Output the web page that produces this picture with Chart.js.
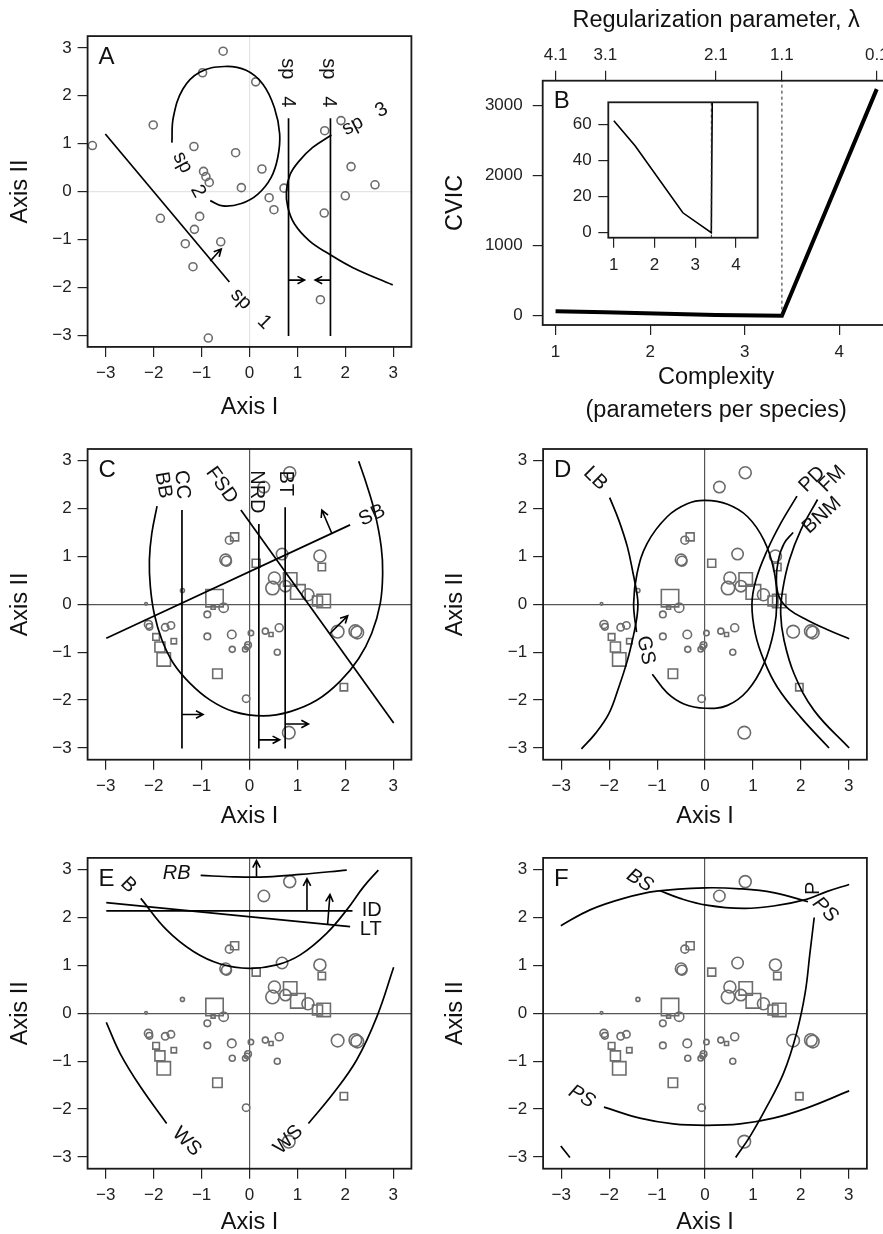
<!DOCTYPE html>
<html><head><meta charset="utf-8">
<script src="https://cdn.jsdelivr.net/npm/chart.js@4.4.1/dist/chart.umd.min.js"></script>
<style>
html,body{margin:0;padding:0;background:#fff;}
body{width:883px;height:1234px;overflow:hidden;position:relative;}
canvas{position:absolute;}
</style></head><body>
<canvas id="cA"></canvas><canvas id="cB"></canvas><canvas id="cBin"></canvas>
<canvas id="cC"></canvas><canvas id="cD"></canvas><canvas id="cE"></canvas><canvas id="cF"></canvas>
<script>
// ---------------- DATA ----------------
const ordTicks = [-3, -2, -1, 0, 1, 2, 3];

// Panel A: simulated sites and species boundaries
const aSitesX = [-0.55,-0.98,0.13,-2.01,-3.28,-1.16,-0.29,0.26,-0.96,-0.91,-0.84,-0.17,0.72,0.41,0.51,1.56,2.00,2.12,2.62,1.91,1.57,-1.86,-1.04,-1.15,-1.34,-0.60,-1.18,1.48,-0.86];
const aSitesY = [2.93,2.48,2.29,1.39,0.96,0.94,0.81,0.47,0.42,0.31,0.19,0.08,0.07,-0.13,-0.38,-0.45,-0.09,0.52,0.14,1.48,1.27,-0.56,-0.52,-0.79,-1.09,-1.05,-1.57,-2.26,-3.06];
const aSp1 = [[-3.01,1.20],[-0.42,-1.89]];
const aSp2 = [[-1.62,1.02],[-1.59,1.55],[-1.39,2.14],[-1.04,2.49],[-0.52,2.61],[-0.07,2.53],[0.28,2.24],[0.52,1.75],[0.63,1.20],[0.59,0.71],[0.45,0.29],[0.17,-0.06],[-0.17,-0.25],[-0.56,-0.30],[-0.82,-0.19]];
const aSp3 = [[1.71,1.18],[1.32,0.92],[1.04,0.64],[0.85,0.36],[0.77,0.01],[0.80,-0.33],[0.94,-0.68],[1.25,-1.03],[1.67,-1.31],[2.16,-1.59],[2.99,-1.95]];
const aSp4a = [[0.815,1.53],[0.815,-3.02]];
const aSp4b = [[1.69,1.53],[1.69,-3.02]];
const aArrows = [[-0.82,-1.45,-0.59,-1.20],[0.815,-1.85,1.15,-1.85],[1.69,-1.85,1.37,-1.85]];
const aLabels = [
  {t:'sp   1', x:0.03, y:-2.45, r:45},
  {t:'sp   2', x:-1.26, y:0.35, r:62},
  {t:'sp   4', x:0.80, y:2.27, r:90},
  {t:'sp   4', x:1.65, y:2.27, r:90},
  {t:'sp   3', x:2.41, y:1.51, r:-28}
];

// Panel B: cross-validated information criterion vs complexity
const complexity = [1, 1.526, 2.695, 3.394, 4.397];
const cvic = [62, 48, 11, 0, 3230];
const lambdaLabels = ['4.1', '3.1', '2.1', '1.1', '0.1'];
const chosenIndex = 3;
const bTicksX = [1, 2, 3, 4];
const bTicksY = [0, 1000, 2000, 3000];
const inTicksY = [0, 20, 40, 60];

// Panels C-F: shared site scores (group: c = circle, s = square; w = weight)
const sitesX = [0.84,0.30,-0.42,-0.50,-0.48,0.68,1.47,0.52,0.48,0.75,1.22,-0.54,-1.40,-2.16,-0.88,-2.11,-2.09,-1.76,-1.64,-0.88,-0.37,-0.36,0.03,0.33,0.62,-0.03,-0.05,-0.09,0.58,-0.07,1.84,2.21,2.25,0.82,
  -0.31,0.14,1.51,0.85,1.01,1.42,1.55,-0.73,-0.76,-1.95,-1.58,-1.87,-1.79,0.45,-0.67,1.97];
const sitesY = [2.75,2.45,1.34,0.93,0.90,1.05,1.01,0.55,0.34,0.38,0.20,-0.07,0.29,0.01,-0.21,-0.42,-0.47,-0.48,-0.44,-0.67,-0.63,-0.94,-0.60,-0.56,-0.49,-0.85,-0.89,-0.94,-1.00,-1.97,-0.57,-0.56,-0.59,-2.68,
  1.41,0.86,0.78,0.52,0.26,0.07,0.07,0.13,-0.06,-0.68,-0.77,-0.89,-1.15,-0.63,-1.45,-1.73];
const sitesGroup = ['c','c','c','c','c','c','c','c','c','c','c','c','c','c','c','c','c','c','c','c','c','c','c','c','c','c','c','c','c','c','c','c','c','c',
  's','s','s','s','s','s','s','s','s','s','s','s','s','s','s','s'];
const sitesWeight = [6.0,5.7,4.0,5.7,5.0,5.7,6.0,6.0,6.7,5.7,6.0,4.7,2.0,1.3,3.3,4.0,3.3,3.7,3.7,3.3,4.3,3.0,2.7,3.0,4.0,3.3,2.7,2.7,3.0,3.7,6.3,6.3,6.3,6.3,
  4.0,4.0,3.7,6.7,7.3,5.0,6.7,8.7,2.0,3.3,2.7,5.0,6.7,2.0,4.7,3.7];

// Panel C curves
const cBB = [[-1.93,2.05],[-2.04,1.48],[-2.09,0.93],[-2.07,0.37],[-1.99,-0.19],[-1.83,-0.74],[-1.59,-1.23],[-1.24,-1.65],[-0.82,-2.00],[-0.33,-2.24],[0.29,-2.33],[0.85,-2.24],[1.41,-2.00],[1.89,-1.61],[2.28,-1.13],[2.55,-0.61],[2.73,0.02],[2.78,0.65],[2.75,1.20],[2.62,1.90],[2.45,2.49],[2.28,2.99]];
const cCC = [[-1.41,1.97],[-1.41,-3.01]];
const cFSD = [[-0.18,1.97],[3.01,-2.48]];
const cNRD = [[0.195,1.68],[0.195,-3.01]];
const cBT = [[0.745,2.03],[0.745,-3.01]];
const cSB = [[-2.99,-0.71],[2.10,1.66]];
const cArrows = [[-1.41,-2.30,-0.97,-2.30],[0.195,-2.83,0.63,-2.83],[0.745,-2.50,1.23,-2.50],[1.68,-0.61,2.05,-0.24],[1.72,1.48,1.51,1.97]];
const cLabels = [
  {t:'BB', x:-1.80, y:2.49, r:80}, {t:'CC', x:-1.41, y:2.50, r:85},
  {t:'FSD', x:-0.58, y:2.49, r:54}, {t:'NRD', x:0.15, y:2.35, r:90},
  {t:'BT', x:0.745, y:2.53, r:90}, {t:'SB', x:2.56, y:1.86, r:-25}
];

// Panel D curves
const dLB = [[-1.99,2.23],[-1.80,1.76],[-1.62,1.20],[-1.50,0.64],[-1.42,0.22],[-1.40,0],[-1.42,-0.26],[-1.50,-0.68],[-1.62,-1.17],[-1.80,-1.73],[-2.01,-2.29],[-2.29,-2.70],[-2.58,-3.02]];
const dGS = [[-1.10,-1.46],[-0.79,-1.85],[-0.44,-2.08],[0,-2.17],[0.47,-2.11],[0.89,-1.80],[1.23,-1.24],[1.44,-0.54],[1.50,0.08],[1.44,0.71],[1.23,1.34],[0.89,1.83],[0.47,2.09],[0,2.17],[-0.37,2.10],[-0.79,1.83],[-1.21,1.27],[-1.42,0.64],[-1.49,0.01],[-1.43,-0.58]];
const dPD = [[1.92,2.26],[1.58,1.69],[1.30,1.13],[1.06,0.50],[0.98,0],[1.05,-0.61],[1.23,-1.17],[1.51,-1.73],[2.00,-2.36],[2.59,-3.00]];
const dFM = [[2.35,2.19],[2.00,1.55],[1.76,0.92],[1.62,0.29],[1.58,-0.20],[1.65,-0.75],[1.86,-1.45],[2.28,-2.22],[3.01,-3.00]];
const dBNM = [[1.84,1.50],[1.65,1.27],[1.53,0.92],[1.49,0.50],[1.55,0.15],[1.76,-0.11],[2.14,-0.33],[2.56,-0.53],[3.01,-0.72]];
const dLabels = [
  {t:'LB', x:-2.29, y:2.63, r:45}, {t:'GS', x:-1.24, y:-0.96, r:78},
  {t:'PD', x:2.24, y:2.61, r:-45}, {t:'FM', x:2.66, y:2.62, r:-45},
  {t:'BNM', x:2.44, y:1.86, r:-42}
];

// Panel E curves
const eRB = [[-1.02,2.88],[-0.33,2.85],[0.36,2.85],[1.06,2.90],[2.03,2.99]];
const eB = [[-2.27,2.40],[-1.73,1.74],[-1.17,1.29],[-0.61,1.03],[0,0.94],[0.57,1.01],[1.06,1.22],[1.61,1.67],[2.03,2.16],[2.38,2.64],[2.69,2.99]];
const eID = [[-2.99,2.14],[2.15,2.14]];
const eLT = [[-2.99,2.31],[2.10,1.81]];
const eWSl = [[-2.99,-0.19],[-2.70,-0.84],[-2.28,-1.53],[-1.73,-2.30]];
const eWSr = [[1.23,-2.30],[1.75,-1.67],[2.24,-0.97],[2.66,-0.07],[3.01,0.96]];
const eArrows = [[0.146,2.85,0.146,3.19],[1.20,2.14,1.20,2.81],[1.63,1.85,1.68,2.48]];
const eLabels = [
  {t:'RB', x:-1.52, y:2.93, r:0, it:true}, {t:'B', x:-2.53, y:2.68, r:45},
  {t:'ID', x:2.55, y:2.14, r:0}, {t:'LT', x:2.53, y:1.75, r:0},
  {t:'WS', x:-1.31, y:-2.68, r:45}, {t:'WS', x:0.81, y:-2.64, r:-45}
];

// Panel F curves
const fP = [[-3.01,1.83],[-2.40,2.16],[-1.70,2.40],[-1.01,2.55],[0,2.62],[0.73,2.60],[1.43,2.52],[2.15,2.33]];
const fBS = [[-0.94,2.56],[-0.52,2.40],[0.03,2.26],[0.80,2.19],[1.43,2.24],[2.12,2.38],[2.54,2.54],[3.01,2.69]];
const fPSa = [[0.64,-3.01],[0.94,-2.57],[1.29,-1.95],[1.64,-1.25],[1.91,-0.42],[2.09,0.42],[2.19,1.25],[2.28,2.00]];
const fPSb = [[-2.11,-1.96],[-1.36,-2.19],[-0.66,-2.31],[0.03,-2.34],[0.73,-2.31],[1.43,-2.19],[2.12,-1.98],[3.01,-1.62]];
const fTiny = [[-3.01,-2.77],[-2.82,-3.01]];
const fLabels = [
  {t:'BS', x:-1.36, y:2.77, r:32, it:true}, {t:'P', x:2.26, y:2.61, r:-90},
  {t:'PS', x:2.51, y:2.16, r:45, it:true}, {t:'PS', x:-2.57, y:-1.74, r:30, it:true}
];

// ---------------- RENDERING ----------------
const FONT = "'Liberation Sans', Arial, Helvetica, sans-serif";
Chart.defaults.font.family = FONT;
const fmtTick = v => (v < 0 ? '\u2212' : '') + Math.abs(v);
const TICK = 17, TITLE = 23.5, LT = TITLE * 1.2, LABEL = 20;

const decor = {
  id: 'decor',
  afterDatasetsDraw(chart, args, o) {
    const {ctx, chartArea: ca, scales} = chart;
    const xs = scales.x, ys = scales.y;
    ctx.save();
    if (o.refX !== undefined) {
      ctx.save();
      ctx.beginPath(); ctx.rect(ca.left, ca.top, ca.right - ca.left, ca.bottom - ca.top); ctx.clip();
      const px = xs.getPixelForValue(o.refX);
      const y0 = o.refFrom === undefined ? ca.bottom : ys.getPixelForValue(o.refFrom);
      ctx.setLineDash([3, 3]); ctx.strokeStyle = '#222'; ctx.lineWidth = 1;
      ctx.beginPath(); ctx.moveTo(px, y0); ctx.lineTo(px, ca.top); ctx.stroke();
      ctx.restore();
    }
    ctx.strokeStyle = '#000'; ctx.lineWidth = 1.6; ctx.setLineDash([]);
    (o.arrows || []).forEach(a => {
      const x0 = xs.getPixelForValue(a[0]), y0 = ys.getPixelForValue(a[1]);
      const x1 = xs.getPixelForValue(a[2]), y1 = ys.getPixelForValue(a[3]);
      const ang = Math.atan2(y1 - y0, x1 - x0), hl = 8, ha = Math.PI / 6.5;
      ctx.beginPath(); ctx.moveTo(x0, y0); ctx.lineTo(x1, y1);
      ctx.moveTo(x1 - hl * Math.cos(ang - ha), y1 - hl * Math.sin(ang - ha));
      ctx.lineTo(x1, y1);
      ctx.lineTo(x1 - hl * Math.cos(ang + ha), y1 - hl * Math.sin(ang + ha));
      ctx.stroke();
    });
    ctx.fillStyle = '#111';
    (o.labels || []).forEach(l => {
      ctx.save();
      ctx.translate(xs.getPixelForValue(l.x), ys.getPixelForValue(l.y));
      ctx.rotate(l.r * Math.PI / 180);
      ctx.font = (l.it ? 'italic ' : '') + LABEL + 'px ' + FONT;
      ctx.textAlign = 'center'; ctx.textBaseline = 'middle';
      ctx.fillText(l.t, 0, 0);
      ctx.restore();
    });
    ctx.strokeStyle = '#1a1a1a'; ctx.lineWidth = 1.8;
    ctx.strokeRect(ca.left, ca.top, ca.right - ca.left, ca.bottom - ca.top);
    if (o.letter) {
      ctx.fillStyle = '#111'; ctx.font = '24px ' + FONT;
      ctx.textAlign = 'left'; ctx.textBaseline = 'middle';
      ctx.fillText(o.letter, ca.left + 11, ca.top + 21);
    }
    ctx.restore();
  }
};
Chart.register(decor);

function place(id, b) {
  const cv = document.getElementById(id);
  cv.width = b.w; cv.height = b.h;
  cv.style.left = b.x + 'px'; cv.style.top = b.y + 'px';
  cv.style.width = b.w + 'px'; cv.style.height = b.h + 'px';
  return cv;
}
const toXY = arr => arr.map(p => ({x: p[0], y: p[1]}));
function curve(arr, smooth) {
  return {data: toXY(arr), showLine: true, borderColor: '#000', borderWidth: 1.7,
          pointRadius: 0, tension: smooth ? 0.4 : 0, fill: false};
}
function sitesDataset(xs, ys, groups, weights) {
  return {
    data: xs.map((x, i) => ({x, y: ys[i]})),
    showLine: false,
    pointStyle: groups.map(g => g === 's' ? 'rect' : 'circle'),
    pointRadius: weights.map((w, i) => groups[i] === 's' ? w / Math.SQRT1_2 : w),
    pointBorderColor: '#6c6c6c', pointBackgroundColor: 'rgba(0,0,0,0)', pointBorderWidth: 1.6
  };
}

function ordPanel(id, b, a, xTitleY, yTitleX, datasets, decorOpts, zeroColor) {
  const cv = place(id, b);
  const W = a.l - b.x, H = xTitleY - a.b + LT / 2;
  new Chart(cv, {
    type: 'scatter',
    data: {datasets},
    options: {
      responsive: false, animation: false, devicePixelRatio: 1,
      layout: {padding: {left: 0, top: a.t - b.y, right: b.x + b.w - a.r, bottom: b.y + b.h - a.b - H}},
      plugins: {legend: {display: false}, tooltip: {enabled: false}, decor: decorOpts},
      scales: {
        x: {
          type: 'linear', min: -3.38, max: 3.38,
          afterBuildTicks: s => { s.ticks = ordTicks.map(v => ({value: v})); },
          afterFit: s => { s.height = H; },
          ticks: {callback: fmtTick, font: {size: TICK}, color: '#222', padding: 6, maxRotation: 0, autoSkip: false},
          grid: {drawOnChartArea: true, color: c => (c.tick && c.tick.value === 0) ? zeroColor : 'rgba(0,0,0,0)',
                 tickColor: '#222', tickLength: 10, lineWidth: 1.2},
          border: {display: false},
          title: {display: true, text: 'Axis I', font: {size: TITLE}, color: '#111', padding: {top: 0, bottom: 0}}
        },
        y: {
          type: 'linear', min: -3.245, max: 3.245,
          afterBuildTicks: s => { s.ticks = ordTicks.map(v => ({value: v})); },
          afterFit: s => { s.width = W; },
          ticks: {callback: fmtTick, font: {size: TICK}, color: '#222', padding: 6, autoSkip: false},
          grid: {drawOnChartArea: true, color: c => (c.tick && c.tick.value === 0) ? zeroColor : 'rgba(0,0,0,0)',
                 tickColor: '#222', tickLength: 10, lineWidth: 1.2},
          border: {display: false},
          title: {display: true, text: 'Axis II', font: {size: TITLE}, color: '#111', padding: {top: yTitleX - b.x - LT / 2, bottom: 0}}
        }
      }
    }
  });
}

// Panel A
ordPanel('cA', {x: 0, y: 0, w: 440, h: 430}, {l: 87.6, t: 36.1, r: 411.4, b: 346.9}, 408, 21,
  [curve(aSp1, false), curve(aSp2, true), curve(aSp3, true), curve(aSp4a, false), curve(aSp4b, false),
   sitesDataset(aSitesX, aSitesY, aSitesX.map(() => 'c'), aSitesX.map(() => 4))],
  {letter: 'A', arrows: aArrows, labels: aLabels}, '#e4e4e4');

const sitesDS = () => sitesDataset(sitesX, sitesY, sitesGroup, sitesWeight);
// Panel C
ordPanel('cC', {x: 0, y: 430, w: 440, h: 410}, {l: 87.6, t: 449, r: 411.4, b: 759.7}, 817, 21,
  [curve(cBB, true), curve(cCC, false), curve(cFSD, false), curve(cNRD, false), curve(cBT, false), curve(cSB, false), sitesDS()],
  {letter: 'C', arrows: cArrows, labels: cLabels}, '#555');
// Panel D
ordPanel('cD', {x: 440, y: 430, w: 443, h: 410}, {l: 543.1, t: 449, r: 866.9, b: 759.7}, 817, 456,
  [curve(dLB, true), curve(dGS, true), curve(dPD, true), curve(dFM, true), curve(dBNM, true), sitesDS()],
  {letter: 'D', labels: dLabels}, '#555');
// Panel E
ordPanel('cE', {x: 0, y: 840, w: 440, h: 400}, {l: 87.6, t: 857.9, r: 411.4, b: 1168.7}, 1223, 21,
  [curve(eRB, true), curve(eB, true), curve(eID, false), curve(eLT, false), curve(eWSl, true), curve(eWSr, true), sitesDS()],
  {letter: 'E', arrows: eArrows, labels: eLabels}, '#555');
// Panel F
ordPanel('cF', {x: 440, y: 840, w: 443, h: 400}, {l: 543.1, t: 857.9, r: 866.9, b: 1168.7}, 1223, 456,
  [curve(fP, true), curve(fBS, true), curve(fPSa, true), curve(fPSb, true), curve(fTiny, false), sitesDS()],
  {letter: 'F', labels: fLabels}, '#555');

// Panel B (main)
(function () {
  const b = {x: 440, y: 0, w: 520, h: 430}, a = {l: 542.7, t: 80.7, r: 889.6, b: 325};
  const cv = place('cB', b);
  const Lb = 33;
  const H = 411 + Lb / 2 - a.b;
  const W = a.l - b.x;
  const lineData = complexity.map((c, i) => ({x: c, y: cvic[i]}));
  new Chart(cv, {
    type: 'scatter',
    data: {datasets: [{data: lineData, showLine: true, borderColor: '#000', borderWidth: 4, pointRadius: 0, tension: 0}]},
    options: {
      responsive: false, animation: false, devicePixelRatio: 1,
      layout: {padding: {left: 0, top: 0, right: b.x + b.w - a.r, bottom: b.y + b.h - a.b - H}},
      plugins: {legend: {display: false}, tooltip: {enabled: false},
        decor: {letter: 'B', refX: complexity[chosenIndex], refFrom: cvic[chosenIndex]}},
      scales: {
        x: {
          type: 'linear', min: 0.864, max: 4.533, position: 'bottom',
          afterBuildTicks: s => { s.ticks = bTicksX.map(v => ({value: v})); },
          afterFit: s => { s.height = H; },
          ticks: {callback: v => String(v), font: {size: TICK}, color: '#222', padding: 7.5, maxRotation: 0, autoSkip: false},
          grid: {drawOnChartArea: false, tickColor: '#222', tickLength: 10, lineWidth: 1.2},
          border: {display: false},
          title: {display: true, text: ['Complexity', '(parameters per species)'], font: {size: TITLE, lineHeight: Lb / TITLE}, color: '#111', padding: {top: 0, bottom: 0}}
        },
        x2: {
          type: 'linear', axis: 'x', position: 'top', min: 0.864, max: 4.533,
          afterBuildTicks: s => { s.ticks = complexity.map(v => ({value: v})); },
          afterFit: s => { s.height = a.t - b.y; },
          ticks: {callback: (v, i) => lambdaLabels[i], font: {size: TICK}, color: '#222', padding: 5.5, maxRotation: 0, autoSkip: false},
          grid: {drawOnChartArea: false, tickColor: '#222', tickLength: 10, lineWidth: 1.2},
          border: {display: false},
          title: {display: true, text: 'Regularization parameter, \u03bb', font: {size: TITLE}, color: '#111', padding: {top: 21 - LT / 2, bottom: 0}}
        },
        y: {
          type: 'linear', min: -133, max: 3350,
          afterBuildTicks: s => { s.ticks = bTicksY.map(v => ({value: v})); },
          afterFit: s => { s.width = W; },
          ticks: {callback: v => String(v), font: {size: TICK}, color: '#222', padding: 10, autoSkip: false},
          grid: {drawOnChartArea: false, tickColor: '#222', tickLength: 10, lineWidth: 1.2},
          border: {display: false},
          title: {display: true, text: 'CVIC', font: {size: TITLE}, color: '#111', padding: {top: 456 - b.x - LT / 2, bottom: 0}}
        }
      }
    }
  });
})();

// Panel B inset
(function () {
  const b = {x: 540, y: 84, w: 230, h: 200}, a = {l: 608.3, t: 102.3, r: 757.7, b: 237.7};
  const cv = place('cBin', b);
  const H = 40, W = a.l - b.x;
  const lineData = complexity.map((c, i) => ({x: c, y: cvic[i]}));
  new Chart(cv, {
    type: 'scatter',
    data: {datasets: [{data: lineData, showLine: true, borderColor: '#000', borderWidth: 1.6, pointRadius: 0, tension: 0}]},
    options: {
      responsive: false, animation: false, devicePixelRatio: 1,
      layout: {padding: {left: 0, top: a.t - b.y, right: b.x + b.w - a.r, bottom: b.y + b.h - a.b - H}},
      plugins: {legend: {display: false}, tooltip: {enabled: false},
        decor: {refX: complexity[chosenIndex]}},
      scales: {
        x: {
          type: 'linear', min: 0.864, max: 4.533,
          afterBuildTicks: s => { s.ticks = bTicksX.map(v => ({value: v})); },
          afterFit: s => { s.height = H; },
          ticks: {callback: v => String(v), font: {size: TICK}, color: '#222', padding: 7.7, maxRotation: 0, autoSkip: false},
          grid: {drawOnChartArea: false, tickColor: '#222', tickLength: 10, lineWidth: 1.2},
          border: {display: false}
        },
        y: {
          type: 'linear', min: -2.8, max: 72.2,
          afterBuildTicks: s => { s.ticks = inTicksY.map(v => ({value: v})); },
          afterFit: s => { s.width = W; },
          ticks: {callback: v => String(v), font: {size: TICK}, color: '#222', padding: 6.6, autoSkip: false},
          grid: {drawOnChartArea: false, tickColor: '#222', tickLength: 10, lineWidth: 1.2},
          border: {display: false}
        }
      }
    }
  });
})();
</script>
</body></html>
